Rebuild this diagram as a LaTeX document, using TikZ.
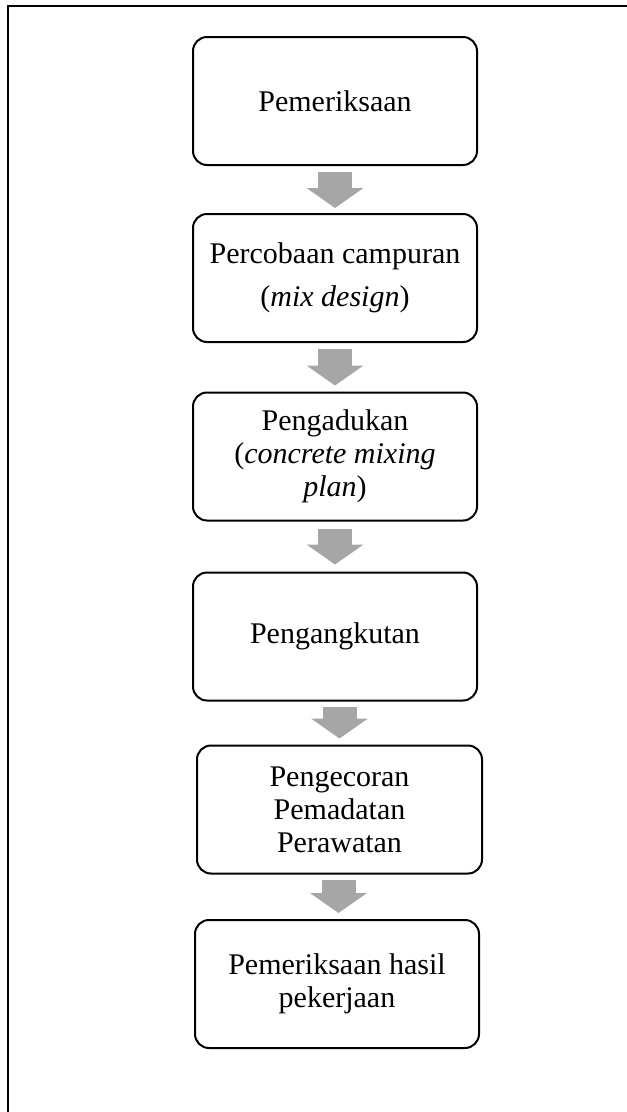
\documentclass[tikz,border=0pt]{standalone}
\usepackage{fontspec}
\setmainfont{Liberation Serif}
\usetikzlibrary{arrows.meta,calc}
\definecolor{arrowgray}{HTML}{A6A6A6}
\tikzset{
  stepbox/.style={draw=black, line width=2pt, rounded corners=14pt,
    minimum width=284pt, minimum height=128pt, inner sep=0pt, align=center,
    font=\fontsize{30}{33}\selectfont},
  flow/.style={draw=arrowgray, line width=34pt,
    -{Triangle[width=56pt,length=20pt]}, arrowgray},
}
\begin{document}
\begin{tikzpicture}[x=1pt,y=-1pt]
\useasboundingbox (0,0) rectangle (627,1112);
\draw[line width=2pt] (627,6) -- (8,6) -- (8,1112);
\node[stepbox] (b1) at (335,101) {Pemeriksaan};
\node[stepbox, font=\fontsize{30}{43}\selectfont] (b2) at (335,278) {Percobaan campuran\\(\textit{mix design})};
\node[stepbox] (b3) at (335,456.5) {Pengadukan\\(\textit{concrete mixing}\\\textit{plan})};
\node[stepbox] (b4) at (335,636.5) {Pengangkutan};
\node[stepbox, minimum width=285pt] (b5) at (339.5,809.5) {Pengecoran\\Pemadatan\\Perawatan};
\node[stepbox] (b6) at (337,984) {Pemeriksaan hasil\\pekerjaan};
\draw[flow] ($(b1.south)+(0,6)$) -- ($(b2.north)+(0,-5)$);
\draw[flow] ($(b2.south)+(0,6)$) -- ($(b3.north)+(0,-6)$);
\draw[flow] ($(b4.north |- b3.south)+(0,7)$) -- ($(b4.north)+(0,-7)$);
\draw[flow] ($(b5.north |- b4.south)+(0,5)$) -- ($(b5.north)+(0,-6)$);
\draw[flow] ($(b5.south)+(-1,5)$) -- ($(b6.north)+(1.5,-6)$);
\end{tikzpicture}
\end{document}
